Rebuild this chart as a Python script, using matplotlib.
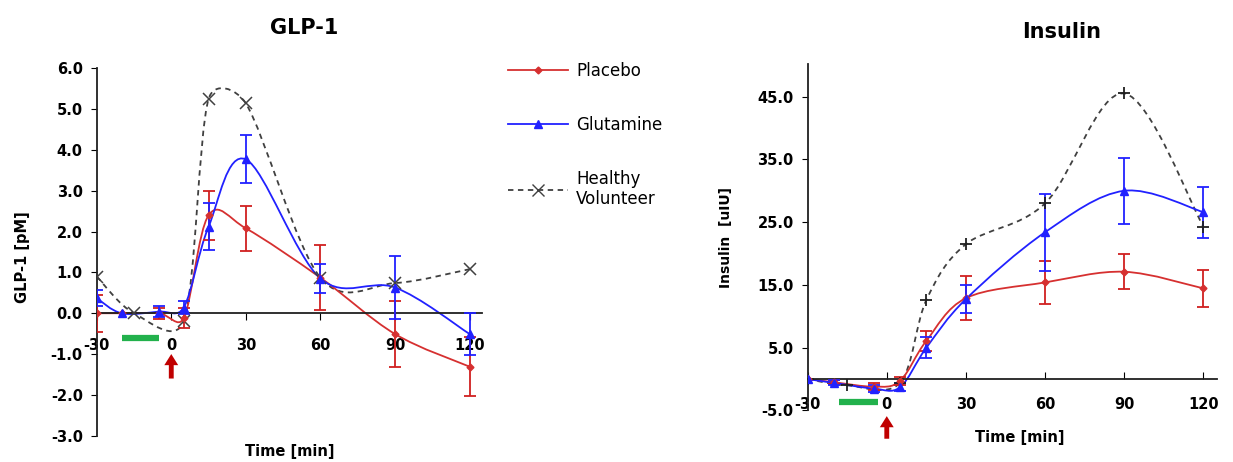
import numpy as np
import matplotlib.pyplot as plt
from matplotlib.path import Path
from matplotlib.patches import PathPatch
from matplotlib.lines import Line2D

plt.rcParams['axes.unicode_minus'] = False

# sampling times [min]
t_pat = [-30, -20, -5, 5, 15, 30, 60, 90, 120]
t_hv = [-30, -15, 5, 15, 30, 60, 90, 120]

# GLP-1 [pM]
glp_placebo = [0.0, 0.0, 0.0, -0.12, 2.4, 2.08, 0.87, -0.51, -1.31]
glp_placebo_err = [0.45, 0.0, 0.13, 0.25, 0.6, 0.55, 0.8, 0.8, 0.72]
glp_glut = [0.37, 0.0, 0.04, 0.14, 2.12, 3.77, 0.85, 0.63, -0.51]
glp_glut_err = [0.2, 0.0, 0.13, 0.17, 0.57, 0.59, 0.35, 0.77, 0.52]
glp_healthy = [0.9, 0.0, -0.19, 5.25, 5.14, 0.87, 0.74, 1.08]

# insulin [uIU]
ins_placebo = [0.0, -0.5, -1.2, -0.3, 6.1, 12.9, 15.4, 17.1, 14.45]
ins_placebo_err = [0.0, 0.3, 0.5, 0.7, 1.6, 3.5, 3.4, 2.8, 2.9]
ins_glut = [0.0, -0.6, -1.5, -1.3, 5.0, 12.75, 23.4, 30.0, 26.6]
ins_glut_err = [0.0, 0.4, 0.6, 0.6, 1.65, 2.2, 6.1, 5.3, 4.05]
ins_healthy = [0.0, -1.0, -0.6, 12.6, 21.5, 28.0, 45.5, 24.3]

xticks = [-30, 0, 30, 60, 90, 120]
glp_yticks = np.arange(-3, 6.1, 1.0)
ins_yticks = np.arange(-5, 46, 10.0)

RED = '#d63030'
DARKRED = '#c00000'
BLUE = '#2121ff'
GREY = '#404040'
GREEN = '#22b14c'


def smooth(ax, x, y, **kw):
    # excel style smoothed line: bezier segments, handles limited by segment length
    pts = ax.transData.transform(np.column_stack([x, y]))
    n = len(pts)
    verts = [pts[0]]
    codes = [Path.MOVETO]
    for i in range(n - 1):
        p0 = pts[max(i - 1, 0)]
        p1 = pts[i]
        p2 = pts[i + 1]
        p3 = pts[min(i + 2, n - 1)]
        seg = np.hypot(*(p2 - p1))
        hs = []
        for d in ((p2 - p0) / 6, (p3 - p1) / 6):
            L = np.hypot(*d)
            if L > 0.5 * seg:
                d = d * 0.5 * seg / L
            hs.append(d)
        verts += [p1 + hs[0], p2 - hs[1], p2]
        codes += [Path.CURVE4] * 3
    dv = ax.transData.inverted().transform(np.array(verts))
    ax.add_patch(PathPatch(Path(dv, codes), fill=False, **kw))


def errbars(ax, x, y, e, color):
    x = np.array(x); y = np.array(y); e = np.array(e)
    m = e > 0
    ax.errorbar(x[m], y[m], yerr=e[m], fmt='none', ecolor=color,
                elinewidth=1.3, capsize=4, capthick=1.3, zorder=3)


def setup(ax, ylim, yticks, tick_dir):
    ax.set_xlim(-30, 125)
    ax.set_ylim(*ylim)
    for s in ['top', 'right']:
        ax.spines[s].set_visible(False)
    ax.spines['bottom'].set_position(('data', 0))
    for s in ['left', 'bottom']:
        ax.spines[s].set_linewidth(1.3)
        ax.spines[s].set_color('#202020')
    ax.set_xticks(xticks)
    ax.set_xticklabels([str(v) for v in xticks])
    ax.set_yticks(yticks)
    ax.set_yticklabels(['%.1f' % v for v in yticks])
    ax.tick_params(axis='x', direction=tick_dir, length=5, pad=13, labelsize=10.5)
    ax.tick_params(axis='y', direction='out', length=4, pad=6, labelsize=10.5)
    for lab in ax.get_xticklabels() + ax.get_yticklabels():
        lab.set_fontweight('bold')


fig = plt.figure(figsize=(12.33, 4.62), dpi=100)

# ---- GLP-1 ----
ax1 = fig.add_axes([0.0784, 0.057, 0.3126, 0.795])
setup(ax1, (-3, 6), glp_yticks, 'out')
smooth(ax1, t_hv, glp_healthy, color=GREY, lw=1.3, ls=(0, (3, 2.5)), zorder=2)
smooth(ax1, t_pat, glp_placebo, color=RED, lw=1.3, zorder=2)
smooth(ax1, t_pat, glp_glut, color=BLUE, lw=1.3, zorder=2)
errbars(ax1, t_pat, glp_placebo, glp_placebo_err, '#d02020')
errbars(ax1, t_pat, glp_glut, glp_glut_err, BLUE)
ax1.plot(t_hv, glp_healthy, ls='none', marker='x', ms=8, mew=1.1, color=GREY, zorder=4)
ax1.plot(t_pat, glp_placebo, ls='none', marker='D', ms=3.5, color=RED, zorder=4)
ax1.plot(t_pat, glp_glut, ls='none', marker='^', ms=5.5, color=BLUE, zorder=4)
ax1.plot([-20, -5], [-0.6, -0.6], color=GREEN, lw=4.5, solid_capstyle='butt', clip_on=False)
ax1.annotate('', xy=(0, -1.0), xytext=(0, -1.6), annotation_clip=False,
             arrowprops=dict(facecolor=DARKRED, edgecolor='none', width=3.5,
                             headwidth=10, headlength=8, shrink=0))
ax1.set_ylabel('GLP-1 [pM]', fontsize=10.5, fontweight='bold')
ax1.yaxis.set_label_coords(-0.172, 0.487)

# ---- Insulin ----
ax2 = fig.add_axes([0.655, 0.1115, 0.3317, 0.750])
setup(ax2, (-5, 50.2), ins_yticks, 'in')
smooth(ax2, t_hv, ins_healthy, color=GREY, lw=1.3, ls=(0, (3, 2.5)), zorder=2)
smooth(ax2, t_pat, ins_placebo, color=RED, lw=1.3, zorder=2)
smooth(ax2, t_pat, ins_glut, color=BLUE, lw=1.3, zorder=2)
errbars(ax2, t_pat, ins_placebo, ins_placebo_err, '#d02020')
errbars(ax2, t_pat, ins_glut, ins_glut_err, BLUE)
ax2.plot(t_hv, ins_healthy, ls='none', marker='+', ms=9, mew=1.3, color='#202020', zorder=4)
ax2.plot(t_pat, ins_placebo, ls='none', marker='D', ms=3.5, color=RED, zorder=4)
ax2.plot(t_pat, ins_glut, ls='none', marker='^', ms=5.5, color=BLUE, zorder=4)
ax2.plot([-18, -3.5], [-3.7, -3.7], color=GREEN, lw=4.5, solid_capstyle='butt', clip_on=False)
ax2.annotate('', xy=(0, -5.9), xytext=(0, -9.5), annotation_clip=False,
             arrowprops=dict(facecolor=DARKRED, edgecolor='none', width=3.5,
                             headwidth=10, headlength=8, shrink=0))
ax2.set_ylabel('Insulin  [uIU]', fontsize=10, fontweight='bold')
ax2.yaxis.set_label_coords(-0.183, 0.498)

# titles and x labels
fig.text(0.247, 0.939, 'GLP-1', fontsize=15, fontweight='bold', ha='center', va='center')
fig.text(0.861, 0.931, 'Insulin', fontsize=15, fontweight='bold', ha='center', va='center')
fig.text(0.235, 0.022, 'Time [min]', fontsize=10.5, fontweight='bold', ha='center', va='center')
fig.text(0.827, 0.052, 'Time [min]', fontsize=10.5, fontweight='bold', ha='center', va='center')

# legend
handles = [
    Line2D([], [], color=RED, lw=1.3, marker='D', ms=3.5),
    Line2D([], [], color=BLUE, lw=1.3, marker='^', ms=5.5),
    Line2D([], [], color=GREY, lw=1.3, ls=(0, (3, 2.5)), marker='x', ms=8),
]
fig.legend(handles, ['Placebo', 'Glutamine', 'Healthy\nVolunteer'], loc='upper left',
           bbox_to_anchor=(0.412, 0.866), frameon=False, fontsize=12,
           handlelength=3.6, handletextpad=0.5, labelspacing=2.15,
           borderpad=0, borderaxespad=0)

fig.savefig('out.png', dpi=100)
